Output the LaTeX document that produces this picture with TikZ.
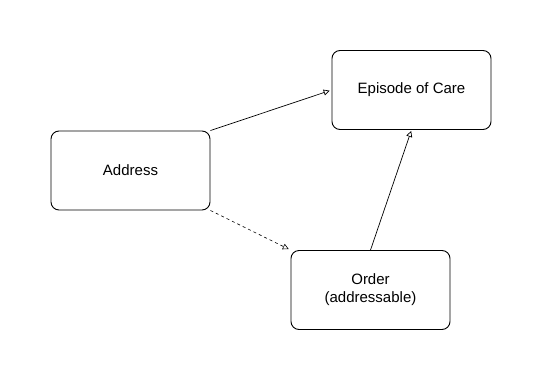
\documentclass[tikz,border=0pt]{standalone}
\usepackage{fontspec}
\setmainfont{Liberation Sans}
\usetikzlibrary{positioning,arrows.meta}

\begin{document}
\begin{tikzpicture}[x=1pt,y=-1pt,>={Triangle[open,length=6pt,width=6pt]},every node/.style={font=\fontsize{15}{18}\selectfont}]
\tikzstyle{ent}=[draw,line width=0.9pt,rounded corners=8pt,minimum width=159pt,minimum height=79pt,align=center,inner sep=0pt]
\useasboundingbox[fill=white] (0,0) rectangle (541,381);
\node[ent] (address) at (130.5,170.5) {Address};
\node[ent] (episode) at (411.5,90) {Episode of Care};
\node[ent] (order) at (370.5,290) {Order\\(addressable)};

\draw[->,line width=0.7pt,shorten >=2pt] (address.north east) -- (episode.west);
\draw[->,line width=0.6pt,dashed,shorten >=2pt] (address.south east) -- (order.north west);
\draw[->,line width=0.7pt,shorten >=1pt] (order.north) -- (episode.south);
\end{tikzpicture}
\end{document}
